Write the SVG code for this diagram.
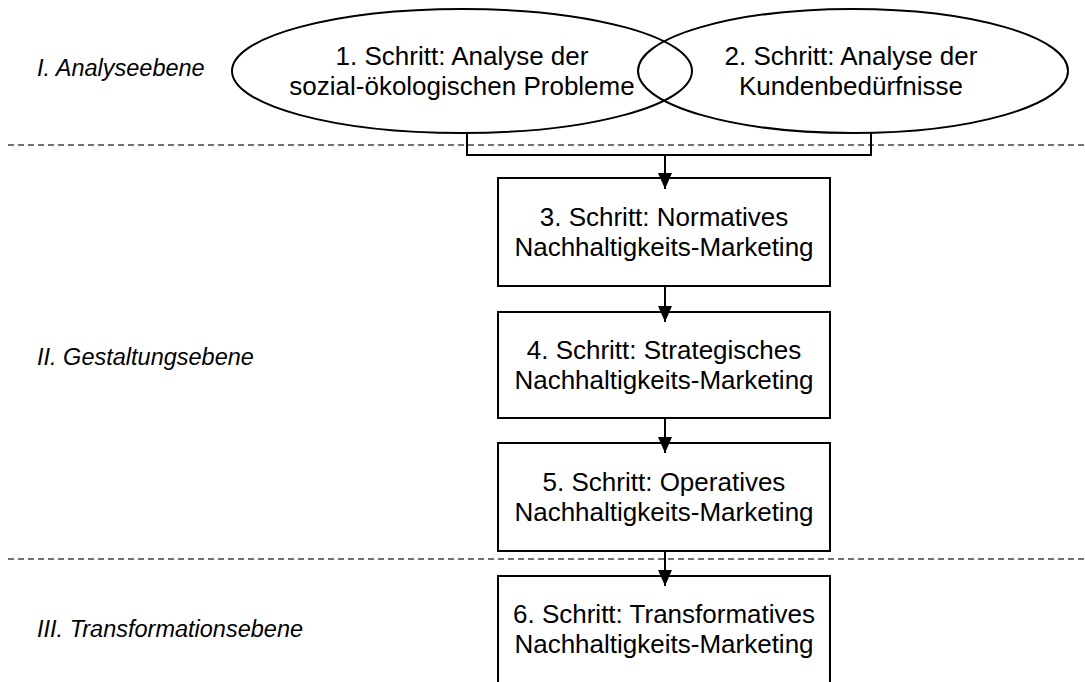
<svg xmlns="http://www.w3.org/2000/svg" width="1085" height="682" viewBox="0 0 1085 682">
  <style>
    .node { fill: none; stroke: #000; stroke-width: 2; }
    .lbl { font-family: "Liberation Sans", Arial, sans-serif; font-size: 26px; fill: #000; text-anchor: middle; }
    .lvl { font-family: "Liberation Sans", Arial, sans-serif; font-size: 23.5px; font-style: italic; fill: #000; }
    .sep { stroke: #444; stroke-width: 1.3; stroke-dasharray: 6 4; fill: none; }
    .conn { stroke: #000; stroke-width: 2; fill: none; }
  </style>
  <defs>
    <marker id="arrow" viewBox="0 0 16 14" refX="16" refY="7" markerWidth="16" markerHeight="14" markerUnits="userSpaceOnUse" orient="auto">
      <path d="M0,0 L16,7 L0,14 Z" fill="#000"/>
    </marker>
  </defs>
  <rect width="1085" height="682" fill="#fff"/>

  <!-- level separators -->
  <g id="separators">
    <line class="sep" x1="8" y1="145" x2="1085" y2="145"/>
    <line class="sep" x1="8" y1="559" x2="1085" y2="559"/>
  </g>

  <!-- level labels -->
  <g id="levels">
    <text class="lvl" x="37" y="76">I. Analyseebene</text>
    <text class="lvl" x="37" y="365">II. Gestaltungsebene</text>
    <text class="lvl" x="37" y="637">III. Transformationsebene</text>
  </g>

  <!-- nodes drawn first so the arrowheads sit on top of the box edges -->
  <g id="step1">
    <ellipse class="node" cx="462" cy="71" rx="230" ry="62"/>
    <text class="lbl" x="462" y="65">1. Schritt: Analyse der</text>
    <text class="lbl" x="462" y="95">sozial-ökologischen Probleme</text>
  </g>

  <g id="step2">
    <ellipse class="node" cx="853" cy="71" rx="215" ry="62"/>
    <text class="lbl" x="851" y="65">2. Schritt: Analyse der</text>
    <text class="lbl" x="851" y="95">Kundenbedürfnisse</text>
  </g>

  <g id="step3">
    <rect class="node" x="498" y="178" width="332" height="108"/>
    <text class="lbl" x="664" y="226">3. Schritt: Normatives</text>
    <text class="lbl" x="664" y="256">Nachhaltigkeits-Marketing</text>
  </g>

  <g id="step4">
    <rect class="node" x="498" y="312" width="332" height="106"/>
    <text class="lbl" x="664" y="359">4. Schritt: Strategisches</text>
    <text class="lbl" x="664" y="389">Nachhaltigkeits-Marketing</text>
  </g>

  <g id="step5">
    <rect class="node" x="498" y="443" width="332" height="108"/>
    <text class="lbl" x="664" y="491">5. Schritt: Operatives</text>
    <text class="lbl" x="664" y="521">Nachhaltigkeits-Marketing</text>
  </g>

  <g id="step6">
    <rect class="node" x="498" y="576" width="332" height="120"/>
    <text class="lbl" x="664" y="623">6. Schritt: Transformatives</text>
    <text class="lbl" x="664" y="653">Nachhaltigkeits-Marketing</text>
  </g>

  <!-- connectors -->
  <g id="connectors">
    <path class="conn" d="M467,133 V155 H871 V133"/>
    <line class="conn" x1="665" y1="155" x2="665" y2="189" marker-end="url(#arrow)"/>
    <line class="conn" x1="665" y1="286" x2="665" y2="322" marker-end="url(#arrow)"/>
    <line class="conn" x1="665" y1="418" x2="665" y2="453" marker-end="url(#arrow)"/>
    <line class="conn" x1="665" y1="551" x2="665" y2="586" marker-end="url(#arrow)"/>
  </g>
</svg>
